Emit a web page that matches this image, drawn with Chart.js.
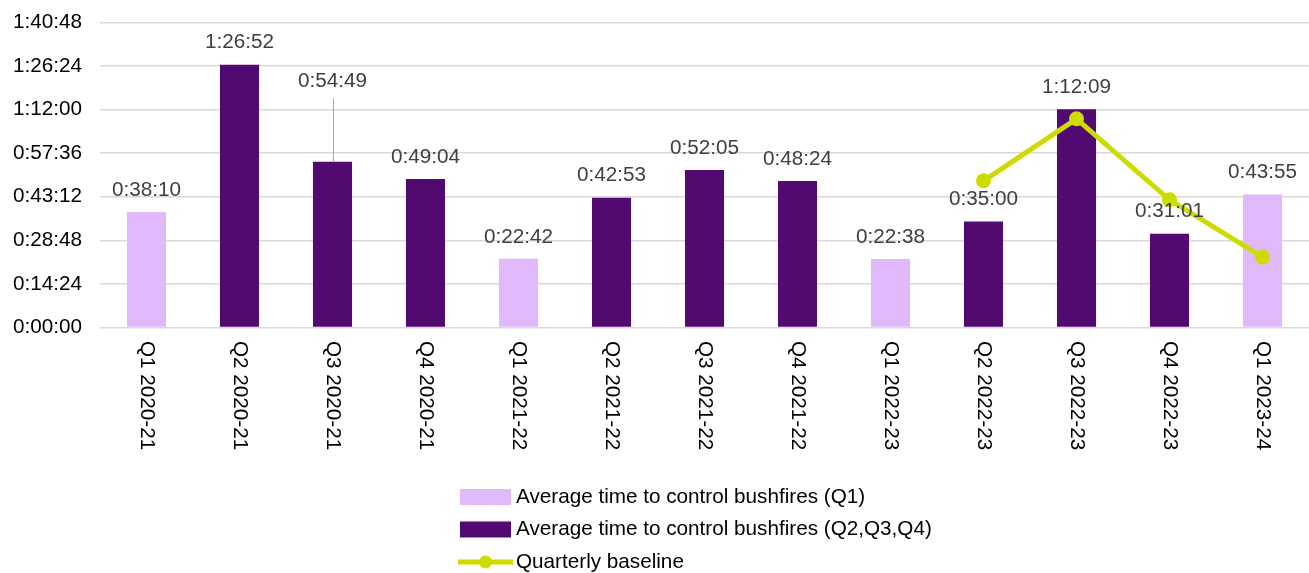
<!DOCTYPE html>
<html>
<head>
<meta charset="utf-8">
<script src="https://cdn.jsdelivr.net/npm/chart.js@4/dist/chart.umd.min.js"></script>
<style>
  html, body { margin: 0; padding: 0; background: #ffffff; }
  #wrap { position: relative; width: 1309px; height: 573px; }
</style>
</head>
<body>
<div id="wrap"><canvas id="c" width="1309" height="573"></canvas></div>
<script>
// ---- Data (values in seconds) ----
const categories = ["Q1 2020-21","Q2 2020-21","Q3 2020-21","Q4 2020-21","Q1 2021-22","Q2 2021-22","Q3 2021-22","Q4 2021-22","Q1 2022-23","Q2 2022-23","Q3 2022-23","Q4 2022-23","Q1 2023-24"];
const q1Values = [2290, null, null, null, 1362, null, null, null, 1358, null, null, null, 2635];
const q234Values = [null, 5212, 3289, 2944, null, 2573, 3125, 2904, null, 2100, 4329, 1861, null];
const baselineValues = [null, null, null, null, null, null, null, null, null, 2909, 4138, 2532, 1396];
const yTickStep = 864;
const yMax = 6048;
const seriesNames = ["Average time to control bushfires (Q1)", "Average time to control bushfires (Q2,Q3,Q4)", "Quarterly baseline"];

const COL_Q1 = "#E0B9FA";
const COL_Q234 = "#500A70";
const COL_LINE = "#CCDC00";
const FONT = "Liberation Sans, Arial, sans-serif";
const FS = 20.7;

function fmt(s) {
  s = Math.round(s);
  const h = Math.floor(s / 3600);
  const m = Math.floor((s % 3600) / 60);
  const sec = s % 60;
  return h + ":" + String(m).padStart(2, "0") + ":" + String(sec).padStart(2, "0");
}

const customDraw = {
  id: "customDraw",
  afterDatasetsDraw(chart) {
    const ctx = chart.ctx;
    ctx.save();
    ctx.font = FS + "px " + FONT;
    ctx.fillStyle = "#404040";
    ctx.textAlign = "center";
    ctx.textBaseline = "middle";
    [0, 1].forEach(di => {
      const meta = chart.getDatasetMeta(di);
      const vals = chart.data.datasets[di].data;
      meta.data.forEach((el, i) => {
        if (vals[i] == null) return;
        let ty = el.y - 22;
        if (di === 1 && i === 2) {
          ty = 81;
          ctx.save();
          ctx.strokeStyle = "#A6A6A6";
          ctx.lineWidth = 1;
          ctx.beginPath();
          ctx.moveTo(Math.round(el.x) + 0.5, 98);
          ctx.lineTo(Math.round(el.x) + 0.5, el.y);
          ctx.stroke();
          ctx.restore();
        }
        ctx.fillText(fmt(vals[i]), el.x, ty);
      });
    });
    ctx.restore();
  },
  afterDraw(chart) {
    const ctx = chart.ctx;
    const xs = chart.scales.x;
    const ys = chart.scales.y;
    ctx.save();
    ctx.font = FS + "px " + FONT;
    ctx.fillStyle = "#000000";
    // y tick labels
    ctx.textAlign = "right";
    ctx.textBaseline = "middle";
    for (let v = 0; v <= yMax; v += yTickStep) {
      ctx.fillText(fmt(v), 82, ys.getPixelForValue(v));
    }
    // rotated x labels (reading top to bottom)
    categories.forEach((c, i) => {
      const x = xs.getPixelForValue(i);
      ctx.save();
      ctx.translate(x, 341);
      ctx.rotate(Math.PI / 2);
      ctx.textAlign = "left";
      ctx.textBaseline = "middle";
      ctx.fillText(c, 0, 0);
      ctx.restore();
    });
    // legend
    const lx = 460, tx = 516;
    const rows = [497, 529.5, 562];
    ctx.textAlign = "left";
    ctx.textBaseline = "middle";
    ctx.fillStyle = COL_Q1;
    ctx.fillRect(lx, rows[0] - 8, 51, 16);
    ctx.fillStyle = COL_Q234;
    ctx.fillRect(lx, rows[1] - 8, 51, 16);
    ctx.strokeStyle = COL_LINE;
    ctx.lineWidth = 5;
    ctx.beginPath();
    ctx.moveTo(lx - 2, rows[2]);
    ctx.lineTo(lx + 53, rows[2]);
    ctx.stroke();
    ctx.fillStyle = COL_LINE;
    ctx.beginPath();
    ctx.arc(lx + 25.5, rows[2], 6.5, 0, Math.PI * 2);
    ctx.fill();
    ctx.fillStyle = "#000000";
    seriesNames.forEach((n, i) => ctx.fillText(n, tx, rows[i]));
    ctx.restore();
  }
};

new Chart(document.getElementById("c"), {
  data: {
    labels: categories,
    datasets: [
      { type: "bar", label: seriesNames[0], data: q1Values, backgroundColor: COL_Q1, grouped: false, order: 2, categoryPercentage: 1, barPercentage: 0.42 },
      { type: "bar", label: seriesNames[1], data: q234Values, backgroundColor: COL_Q234, grouped: false, order: 2, categoryPercentage: 1, barPercentage: 0.42 },
      { type: "line", label: seriesNames[2], data: baselineValues, borderColor: COL_LINE, backgroundColor: COL_LINE, borderWidth: 5, pointRadius: 7.5, pointBackgroundColor: COL_LINE, pointBorderWidth: 0, pointHoverRadius: 7.5, spanGaps: false, order: 0, tension: 0 }
    ]
  },
  options: {
    responsive: false,
    animation: false,
    devicePixelRatio: 1,
    layout: { autoPadding: false, padding: { top: 22.5, right: 0, left: 0, bottom: 0 } },
    plugins: { legend: { display: false }, tooltip: { enabled: false } },
    scales: {
      x: {
        grid: { display: false },
        border: { display: false },
        ticks: { display: false },
        afterFit(scale) { scale.height = 573 - 327.5; }
      },
      y: {
        min: 0, max: yMax,
        grid: { color: "#D9D9D9", lineWidth: 1.5, drawTicks: false },
        border: { display: false },
        ticks: { stepSize: yTickStep, display: false },
        afterFit(scale) { scale.width = 100; }
      }
    }
  },
  plugins: [customDraw]
});
</script>
</body>
</html>
